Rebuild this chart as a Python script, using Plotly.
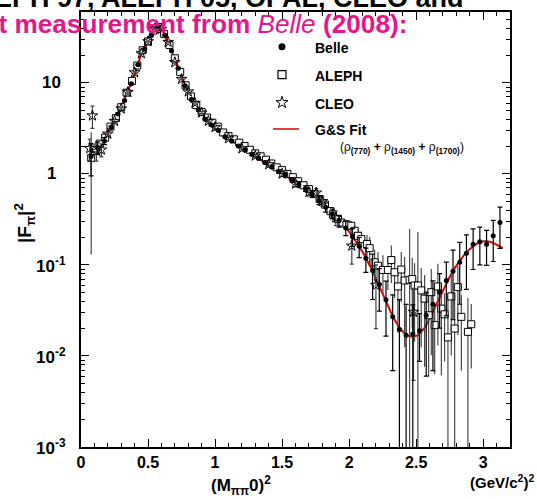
import numpy as np
import plotly.graph_objects as go

# ---------------- data ----------------
fit_s = [0.10, 0.125, 0.15, 0.177, 0.20, 0.239, 0.25, 0.275, 0.30, 0.34, 0.39, 0.42, 0.45, 0.50,
         0.53, 0.55, 0.567, 0.59, 0.61, 0.649, 0.68, 0.711, 0.773, 0.80, 0.848, 0.885, 0.935,
         1.0, 1.059, 1.134, 1.2, 1.258, 1.32, 1.383, 1.45, 1.506, 1.57, 1.631, 1.69, 1.755,
         1.82, 1.879, 1.93, 1.979, 2.04, 2.103, 2.165, 2.227, 2.28, 2.327, 2.37, 2.401, 2.44,
         2.476, 2.51, 2.538, 2.57, 2.60, 2.64, 2.675, 2.71, 2.749, 2.785, 2.824, 2.86, 2.899,
         2.94, 2.986, 3.02, 3.048, 3.09, 3.135, 3.145]
fit_f2 = [1.76, 1.95, 2.17, 2.4, 2.79, 3.6, 3.75, 4.5, 5.3, 7.6, 11.1, 15.2, 20.8, 28.0,
          34.0, 39.0, 41.7, 39.0, 35.0, 27.9, 21.5, 16.2, 9.6, 8.0, 5.8, 5.0, 3.95,
          3.2, 2.62, 2.27, 1.95, 1.69, 1.48, 1.31, 1.12, 1.01, 0.87, 0.76, 0.65, 0.546,
          0.44, 0.36, 0.30, 0.257, 0.19, 0.137, 0.092, 0.057, 0.037, 0.0269, 0.021, 0.0184, 0.0166,
          0.0162, 0.0168, 0.0184, 0.021, 0.0258, 0.034, 0.0444, 0.057, 0.0733, 0.091, 0.111, 0.13, 0.149,
          0.167, 0.18, 0.183, 0.18, 0.17, 0.156, 0.152]

belle_s = [0.075, 0.125, 0.175, 0.225, 0.275, 0.325, 0.375, 0.425, 0.475, 0.525, 0.575, 0.625,
           0.675, 0.725, 0.775, 0.825, 0.875, 0.925, 0.975, 1.025, 1.075, 1.125, 1.175, 1.225,
           1.275, 1.325, 1.375, 1.425, 1.475, 1.525, 1.575, 1.625, 1.675, 1.725, 1.775, 1.825,
           1.875, 1.925, 1.975, 2.025, 2.075, 2.125, 2.175, 2.225, 2.275, 2.325, 2.375, 2.425,
           2.475, 2.525, 2.575, 2.625, 2.675, 2.725, 2.775, 2.825, 2.875, 2.925, 2.975, 3.025,
           3.075, 3.125]
belle_f2 = [1.55, 1.95, 2.3, 3.25, 4.55, 6.4, 9.8, 15.8, 23.5, 33.0, 41.5, 33.5,
            22.5, 14.5, 9.3, 6.6, 5.1, 4.0, 3.45, 3.0, 2.55, 2.3, 2.03, 1.84,
            1.64, 1.48, 1.33, 1.19, 1.06, 0.97, 0.86, 0.77, 0.69, 0.60, 0.51, 0.43,
            0.365, 0.305, 0.255, 0.205, 0.16, 0.118, 0.0867, 0.061, 0.0415, 0.0269, 0.0195, 0.0169,
            0.0174, 0.0189, 0.028, 0.0369, 0.0502, 0.0675, 0.085, 0.107, 0.134, 0.169, 0.18, 0.169,
            0.209, 0.292]
belle_err = [0.6, 0.3, 0.2, 0.12, 0.12, 0.15, 0.2, 0.25, 0.3, 0.35, 0.4, 0.35,
             0.3, 0.2, 0.15, 0.12, 0.1, 0.08, 0.07, 0.07, 0.06, 0.06, 0.05, 0.05,
             0.05, 0.05, 0.05, 0.05, 0.05, 0.05, 0.05, 0.05, 0.05, 0.05, 0.05, 0.05,
             0.045, 0.045, 0.045, 0.045, 0.04, 0.035, 0.045, 0.03, 0.025, 0.02, 0.022, 0.02,
             0.019, 0.0102, 0.022, 0.03, 0.03, 0.04, 0.06, 0.07, 0.08, 0.08, 0.08, 0.07,
             0.10, 0.14]

aleph_s = [0.076, 0.10, 0.14, 0.18, 0.22, 0.26, 0.30, 0.34, 0.38, 0.42, 0.46, 0.50, 0.54, 0.58,
           0.62, 0.66, 0.70, 0.74, 0.78, 0.82, 0.86, 0.90, 0.94, 0.98, 1.02, 1.06, 1.10,
           1.14, 1.18, 1.22, 1.26, 1.30, 1.34, 1.38, 1.42, 1.46, 1.50, 1.54, 1.58, 1.62,
           1.66, 1.70, 1.74, 1.78, 1.82, 1.86, 1.879, 1.917, 1.942, 1.98, 2.016, 2.041, 2.066,
           2.091, 2.133, 2.153, 2.19, 2.215, 2.252, 2.289, 2.315, 2.339, 2.364, 2.389, 2.414,
           2.451, 2.471, 2.488, 2.513, 2.538, 2.563, 2.593, 2.613, 2.638, 2.662, 2.688, 2.712,
           2.737, 2.762, 2.787, 2.811, 2.837, 2.886, 2.911]
aleph_f2 = [1.5, 1.9, 2.15, 2.5, 3.3, 4.1, 5.4, 7.8, 10.5, 15.5, 22.8, 28.5, 37.5, 41.0,
            34.5, 26.0, 18.6, 13.2, 9.4, 7.1, 5.7, 4.8, 4.15, 3.65, 3.3, 2.85, 2.6,
            2.4, 2.2, 2.02, 1.84, 1.68, 1.56, 1.43, 1.30, 1.18, 1.10, 1.0, 0.92, 0.83,
            0.75, 0.68, 0.60, 0.53, 0.46, 0.39, 0.36, 0.318, 0.292, 0.28, 0.269, 0.237, 0.209,
            0.192, 0.17, 0.153, 0.107, 0.098, 0.088, 0.088, 0.113, 0.083, 0.058, 0.089, 0.0675,
            0.0686, 0.07, 0.0594, 0.0594, 0.0525, 0.0426, 0.028, 0.0502, 0.0218, 0.058, 0.0331, 0.0287,
            0.016, 0.0451, 0.02, 0.057, 0.0269, 0.0184, 0.0223]
aleph_err = [1.37, 0.15, 0.1, 0.08, 0.08, 0.1, 0.12, 0.15, 0.2, 0.3, 0.4, 0.5, 0.6, 0.6,
             0.5, 0.4, 0.3, 0.2, 0.15, 0.12, 0.1, 0.08, 0.07, 0.06, 0.06, 0.05, 0.05,
             0.05, 0.05, 0.05, 0.05, 0.05, 0.05, 0.05, 0.05, 0.05, 0.05, 0.05, 0.05, 0.05,
             0.05, 0.05, 0.045, 0.045, 0.04, 0.035, 0.03, 0.03, 0.03, 0.03, 0.035, 0.035, 0.04,
             0.04, 0.045, 0.05, 0.04, 0.04, 0.04, 0.035, 0.05, 0.04, 0.04, 0.05, 0.055,
             0.18, 0.05, 0.045, 0.17, 0.04, 0.035, 0.022, 0.04, 0.0155, 0.045, 0.027, 0.02,
             0.03, 0.035, 0.03, 0.04, 0.02, 0.025, 0.015]

cleo_s = [0.065, 0.085, 0.115, 0.152, 0.20, 0.25, 0.30, 0.35, 0.40, 0.45, 0.50, 0.55, 0.60,
          0.65, 0.70, 0.75, 0.80, 0.85, 0.90, 0.95, 1.0, 1.1, 1.2, 1.3, 1.4, 1.5, 1.6, 1.7,
          1.755, 1.8, 1.9, 2.02, 2.2, 2.48]
cleo_f2 = [1.91, 4.36, 1.78, 1.84, 2.75, 3.8, 5.2, 7.9, 13.0, 21.0, 28.5, 39.5, 39.0,
           28.0, 16.8, 11.0, 8.0, 6.0, 4.7, 3.8, 3.25, 2.45, 1.9, 1.58, 1.27, 1.0, 0.78, 0.63,
           0.62, 0.5, 0.33, 0.162, 0.06, 0.0304]
cleo_err = [0.5, 1.2, 0.4, 0.3, 0.15, 0.15, 0.15, 0.2, 0.3, 0.4, 0.5, 0.6, 0.6,
            0.5, 0.35, 0.25, 0.2, 0.15, 0.12, 0.1, 0.1, 0.08, 0.07, 0.06, 0.06, 0.06, 0.06, 0.06,
            0.07, 0.06, 0.06, 0.06, 0.04, 0.025]

x_tick_vals = [0, 0.5, 1, 1.5, 2, 2.5, 3]
x_tick_text = ["0", "0.5", "1", "1.5", "2", "2.5", "3"]
y_tick_vals = [1e-3, 1e-2, 1e-1, 1, 10]
y_tick_text = ["10<sup>-3</sup>", "10<sup>-2</sup>", "10<sup>-1</sup>", "1", "10"]
legend_names = ["Belle", "ALEPH", "CLEO", "G&S Fit"]

# ---------------- figure ----------------
W, H = 537, 499
ML, MR, MT, MB = 81, 27, 10, 52
PW, PH = W - ML - MR, H - MT - MB
FONT = "Liberation Sans, Arial, sans-serif"
MAGENTA = "#e5168c"


def px_x(px):
    return (px - ML) / PW


def px_y(py):
    return (H - MB - py) / PH


fig = go.Figure()

fig.add_trace(go.Scatter(x=fit_s, y=fit_f2, mode="lines",
                         line=dict(color="#e00000", width=2), showlegend=False))
fig.add_trace(go.Scatter(x=aleph_s, y=aleph_f2, mode="markers",
                         marker=dict(symbol="square", size=7, color="white",
                                     line=dict(color="black", width=1)),
                         error_y=dict(type="data", array=aleph_err, color="#4a4a4a",
                                      thickness=1.2, width=0), showlegend=False))
fig.add_trace(go.Scatter(x=cleo_s, y=cleo_f2, mode="markers",
                         marker=dict(symbol="star-open", size=8, color="black",
                                     line=dict(color="black", width=1)),
                         error_y=dict(type="data", array=cleo_err, color="#444444",
                                      thickness=1.2, width=2), showlegend=False))
fig.add_trace(go.Scatter(x=belle_s, y=belle_f2, mode="markers",
                         marker=dict(symbol="circle", size=5, color="black"),
                         error_y=dict(type="data", array=belle_err, color="black",
                                      thickness=1.2, width=2.5), showlegend=False))

# legend drawn on an overlay axis in paper-like units
leg_x = px_x(282)
leg_rows = [45, 73, 101, 127.5]
fig.add_trace(go.Scatter(x=[leg_x], y=[px_y(leg_rows[0])], xaxis="x2", yaxis="y2", mode="markers",
                         marker=dict(symbol="circle", size=7, color="black"), showlegend=False))
fig.add_trace(go.Scatter(x=[leg_x], y=[px_y(leg_rows[1])], xaxis="x2", yaxis="y2", mode="markers",
                         marker=dict(symbol="square-open", size=8, color="black",
                                     line=dict(width=1.2)), showlegend=False))
fig.add_trace(go.Scatter(x=[leg_x], y=[px_y(leg_rows[2])], xaxis="x2", yaxis="y2", mode="markers",
                         marker=dict(symbol="star-open", size=9, color="black",
                                     line=dict(width=1)), showlegend=False))
fig.add_trace(go.Scatter(x=[px_x(273), px_x(299)], y=[px_y(leg_rows[3])] * 2, xaxis="x2", yaxis="y2",
                         mode="lines", line=dict(color="#e00000", width=1.5), showlegend=False))

annotations = []
for name, row in zip(legend_names, leg_rows):
    annotations.append(dict(x=px_x(313), y=px_y(row + 1), xref="paper", yref="paper",
                            text="<b>" + name + "</b>", showarrow=False, xanchor="left",
                            yanchor="middle", font=dict(size=14, color="black", family=FONT)))
annotations.append(dict(x=px_x(338), y=px_y(147), xref="paper", yref="paper",
                        text="(ρ<sub><b>(770)</b></sub> <b>+</b> ρ<sub><b>(1450)</b></sub> "
                             "<b>+</b> ρ<sub><b>(1700)</b></sub>)",
                        showarrow=False, xanchor="left", yanchor="middle",
                        font=dict(size=12, color="black", family=FONT)))

# y tick labels
for v, t in zip(y_tick_vals, y_tick_text):
    annotations.append(dict(x=px_x(51), y=np.log10(v), xref="paper", yref="y",
                            text="<b>" + t + "</b>", showarrow=False, xanchor="center",
                            yanchor="middle", font=dict(size=17, color="black", family=FONT)))

# axis titles
annotations.append(dict(x=px_x(241), y=px_y(486), xref="paper", yref="paper",
                        text="<b>(M<sub>ππ</sub>0)<sup>2</sup></b>", showarrow=False,
                        xanchor="center", yanchor="middle",
                        font=dict(size=17, color="black", family=FONT)))
annotations.append(dict(x=px_x(536), y=px_y(482), xref="paper", yref="paper",
                        text="<b>(GeV/c<sup>2</sup>)<sup>2</sup></b>", showarrow=False,
                        xanchor="right", yanchor="middle",
                        font=dict(size=15, color="black", family=FONT)))
annotations.append(dict(x=px_x(24), y=px_y(222), xref="paper", yref="paper",
                        text="<b>|F<sub>π</sub>|<sup>2</sup></b>", showarrow=False,
                        textangle=-90, xanchor="center", yanchor="middle",
                        font=dict(size=19, color="black", family=FONT)))

# title lines (cut off at the top-left edge of the page)
annotations.append(dict(x=px_x(466), y=px_y(13.5), xref="paper", yref="paper",
                        text="<b>ALEPH 97, ALEPH 05, OPAL, CLEO and</b>", showarrow=False,
                        xanchor="right", yanchor="bottom",
                        font=dict(size=27, color="black", family=FONT)))
annotations.append(dict(x=px_x(409), y=px_y(39.5), xref="paper", yref="paper",
                        text="<b>Latest measurement from </b><i>Belle</i><b> (2008):</b>",
                        showarrow=False, xanchor="right", yanchor="bottom",
                        font=dict(size=26.2, color=MAGENTA, family=FONT)))

fig.update_layout(
    width=W, height=H,
    margin=dict(l=ML, r=MR, t=MT, b=MB, pad=0),
    paper_bgcolor="white", plot_bgcolor="white",
    showlegend=False,
    annotations=annotations,
    xaxis=dict(range=[0, 3.2], tickmode="array", tickvals=x_tick_vals, ticktext=x_tick_text,
               ticks="inside", ticklen=8, tickwidth=1, tickcolor="black",
               minor=dict(ticks="inside", ticklen=4, dtick=0.1, tick0=0, tickcolor="black"),
               showline=True, linewidth=2, linecolor="black", mirror="allticks",
               showgrid=False, zeroline=False,
               tickfont=dict(size=16, color="black", family=FONT, weight="bold")),
    yaxis=dict(type="log", range=[-3, 1.778], tickmode="array",
               tickvals=y_tick_vals, showticklabels=False,
               ticks="inside", ticklen=8, tickwidth=1, tickcolor="black",
               minor=dict(ticks="inside", ticklen=4, dtick="D1", tickcolor="black"),
               showline=True, linewidth=2, linecolor="black", mirror="allticks",
               showgrid=False, zeroline=False),
    xaxis2=dict(range=[0, 1], overlaying="x", visible=False, fixedrange=True),
    yaxis2=dict(range=[0, 1], overlaying="y", visible=False, fixedrange=True),
)

fig.write_html("out.html", config={"displayModeBar": False},
               post_script="document.body.style.margin='0px';")
